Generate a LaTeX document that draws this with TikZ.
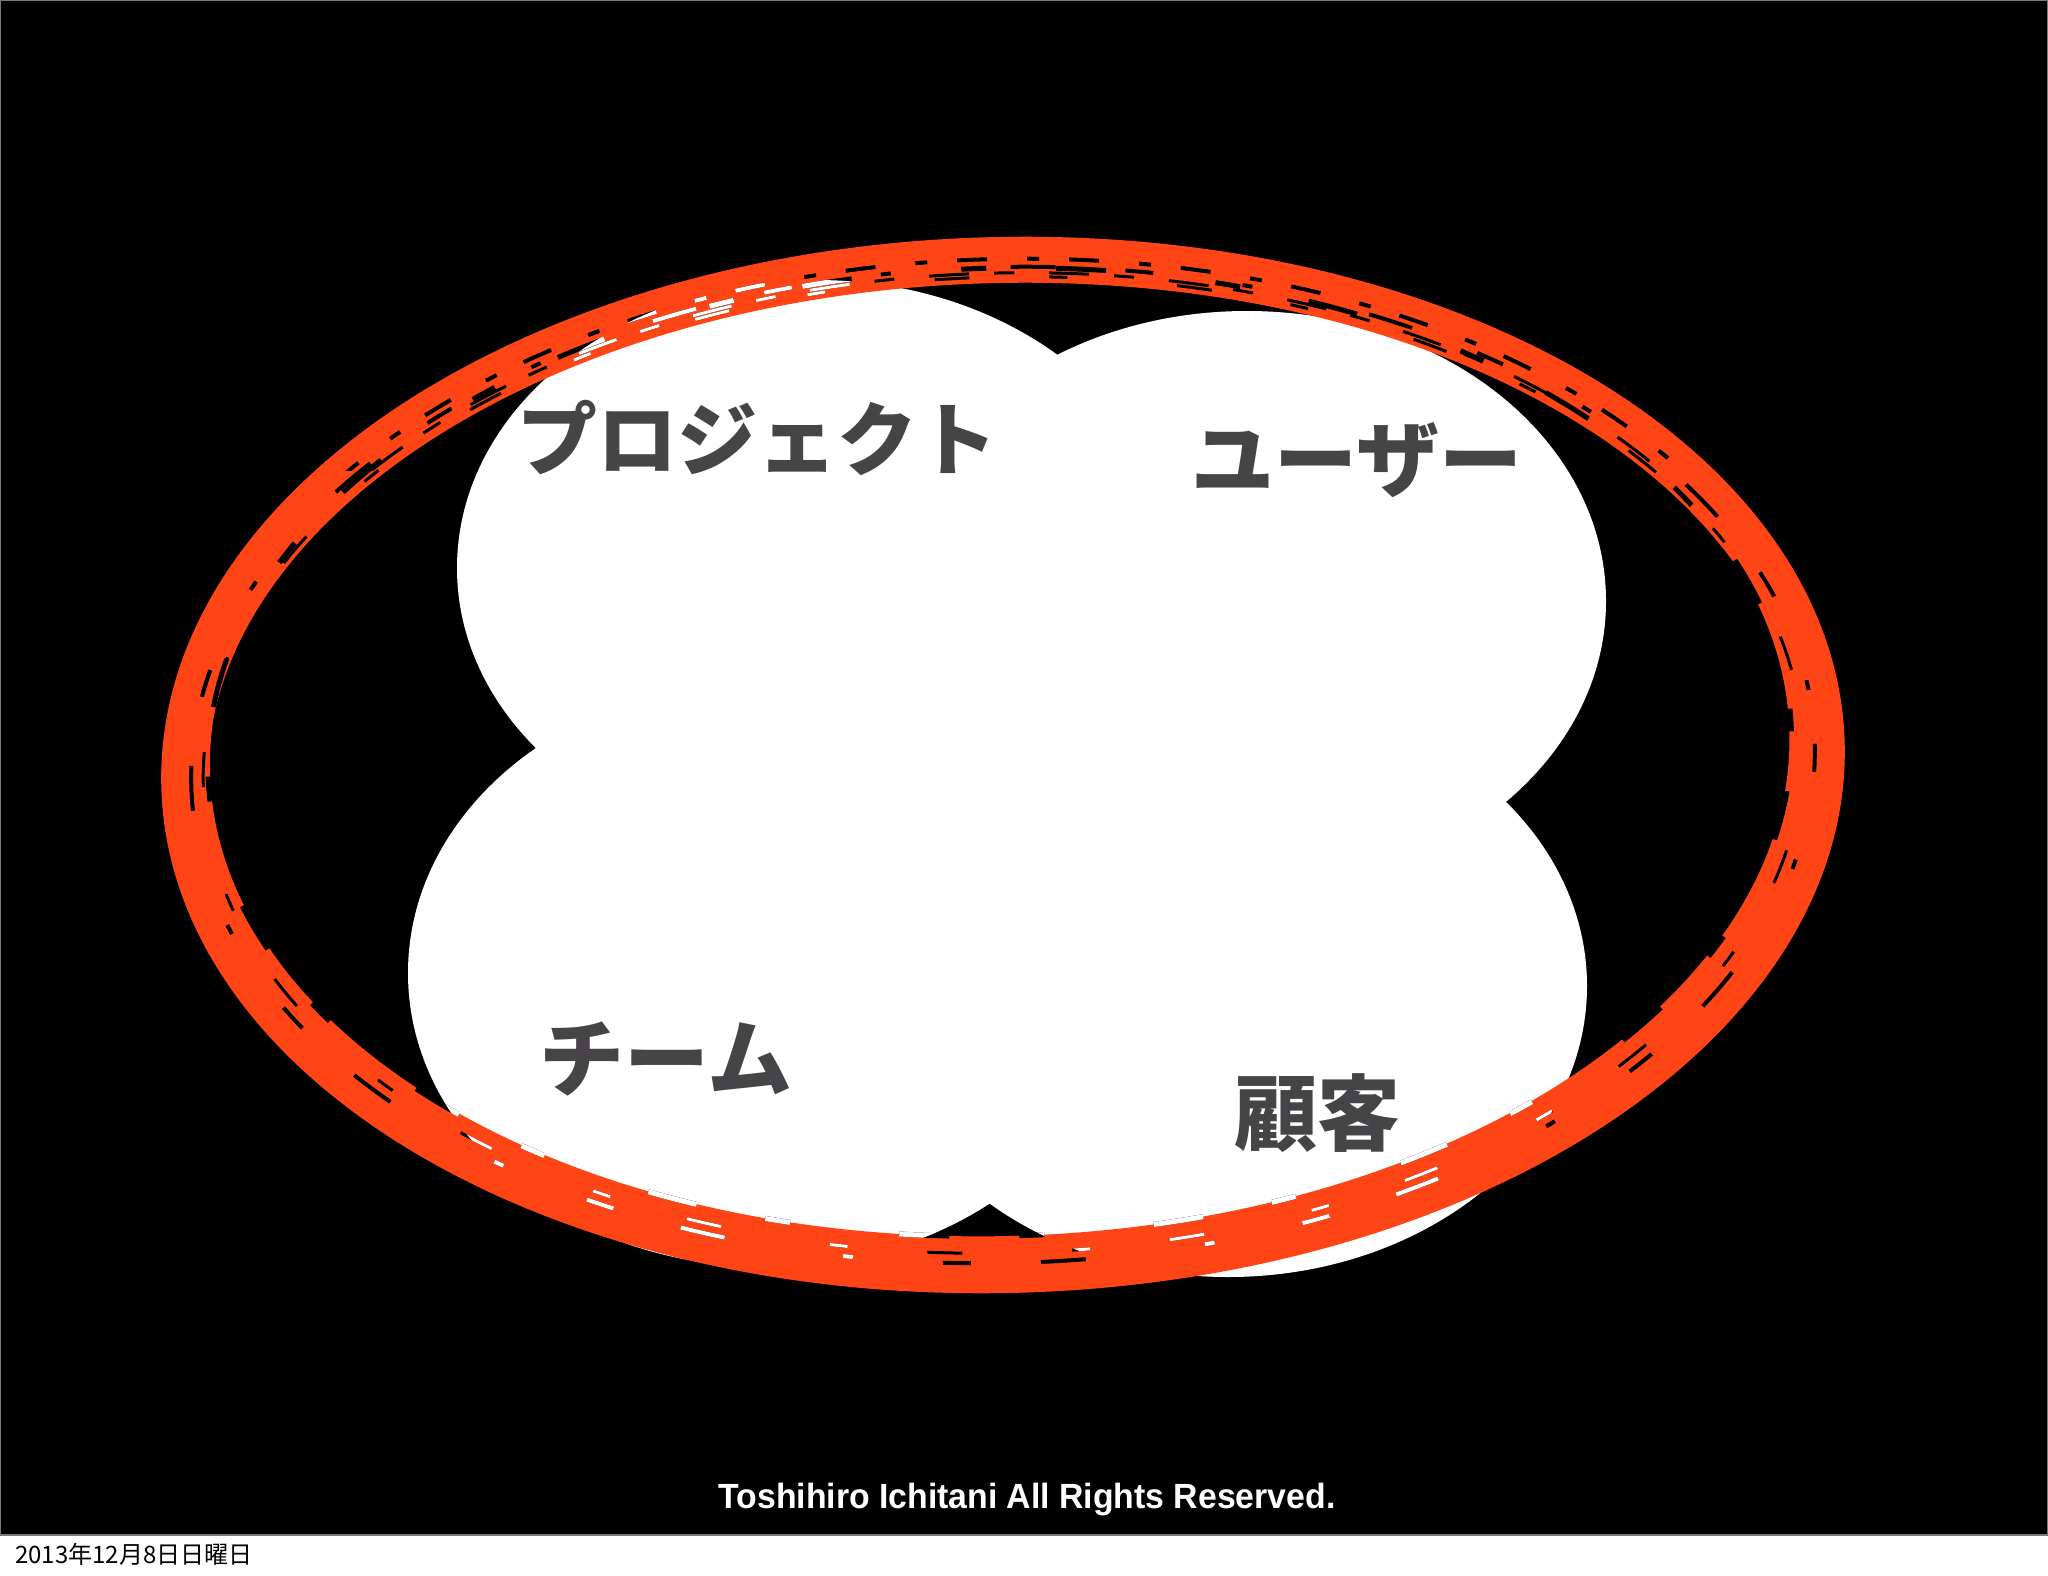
\documentclass[tikz,border=0pt]{standalone}
\usepackage{fontspec}
\newfontfamily\jp{Noto Sans CJK JP}
\newfontfamily\footfont{Liberation Sans}
\definecolor{ringred}{HTML}{FF4516}
\definecolor{labelgray}{HTML}{464447}
\definecolor{edgegray}{HTML}{7A7A7A}
\tikzset{
  blob/.style={fill=white},
  ringstroke/.style={draw=ringred, line cap=round},
  ringrot/.style={rotate around={1.5:(1003,765)}},
  lbl/.style={inner sep=0pt, text=labelgray},
  lblsize/.style={font=\jp\bfseries\fontsize{#1}{#1}\selectfont}
}
\newcommand\ringstreaks[1]{%
  \draw[#1, ringrot, line width=4pt, dash pattern=on 28pt off 90pt on 10pt off 120pt on 45pt off 70pt]
    (1003,765) ellipse [x radius=812, y radius=498];
  \draw[#1, ringrot, line width=3pt, dash pattern=on 18pt off 110pt on 35pt off 80pt, dash phase=20pt]
    (1003,765) ellipse [x radius=800, y radius=488];
  \draw[#1, ringrot, line width=5pt, dash pattern=on 25pt off 70pt on 50pt off 110pt, dash phase=35pt]
    (1000,752) ellipse [x radius=792, y radius=484];
  \begin{scope}
  \clip (0,0) rectangle (2048,470);
  \draw[#1, ringrot, line width=4pt, dash pattern=on 30pt off 40pt on 12pt off 30pt]
    (1003,765) ellipse [x radius=820, y radius=506];
  \draw[#1, ringrot, line width=3pt, dash pattern=on 20pt off 35pt on 40pt off 25pt, dash phase=15pt]
    (1003,765) ellipse [x radius=805, y radius=492];
  \end{scope}
}
\begin{document}
\begin{tikzpicture}[x=1pt,y=-1pt]
\useasboundingbox (0,0) rectangle (2048,1576);
\fill[white] (0,0) rectangle (2048,1576);
\path[fill=black, draw=edgegray, line width=2pt] (0,0) rectangle (2048,1535);
% cloud of four ellipses
\fill[blob] (816,568) ellipse [x radius=359, y radius=288];
\fill[blob] (1247,601) ellipse [x radius=359, y radius=290];
\fill[blob] (767,973) ellipse [x radius=359, y radius=294];
\fill[blob] (1228,986) ellipse [x radius=359, y radius=291];
% brush ring
\draw[ringstroke, ringrot, line width=46pt] (1003,765) ellipse [x radius=819, y radius=505];
\draw[ringstroke, ringrot, line width=20pt] (1000,752) ellipse [x radius=800, y radius=494];
% brush gaps showing the background
\ringstreaks{black}
\begin{scope}
\clip (816,568) ellipse [x radius=359, y radius=288];
\ringstreaks{white}
\end{scope}
\begin{scope}
\clip (1247,601) ellipse [x radius=359, y radius=290];
\ringstreaks{white}
\end{scope}
\begin{scope}
\clip (767,973) ellipse [x radius=359, y radius=294];
\ringstreaks{white}
\end{scope}
\begin{scope}
\clip (1228,986) ellipse [x radius=359, y radius=291];
\ringstreaks{white}
\end{scope}
% labels
\node[lbl, lblsize=80] (project) at (757,438) {プロジェクト};
\node[lbl, lblsize=83] (user) at (1357,460) {ユーザー};
\node[lbl, lblsize=85] (team) at (666,1059) {チーム};
\node[lbl, lblsize=83] (client) at (1317,1113) {顧客};
% footer
\node[inner sep=0pt, anchor=base, text=white, font=\footfont\bfseries\fontsize{35}{35}\selectfont]
  (credit) at (1027,1508) {\scalebox{0.965}[1]{Toshihiro Ichitani All Rights Reserved.}};
\node[inner sep=0pt, anchor=base west, text=black, font=\jp\fontsize{24}{24}\selectfont]
  (date) at (15,1563) {2013年12月8日日曜日};
\end{tikzpicture}
\end{document}
